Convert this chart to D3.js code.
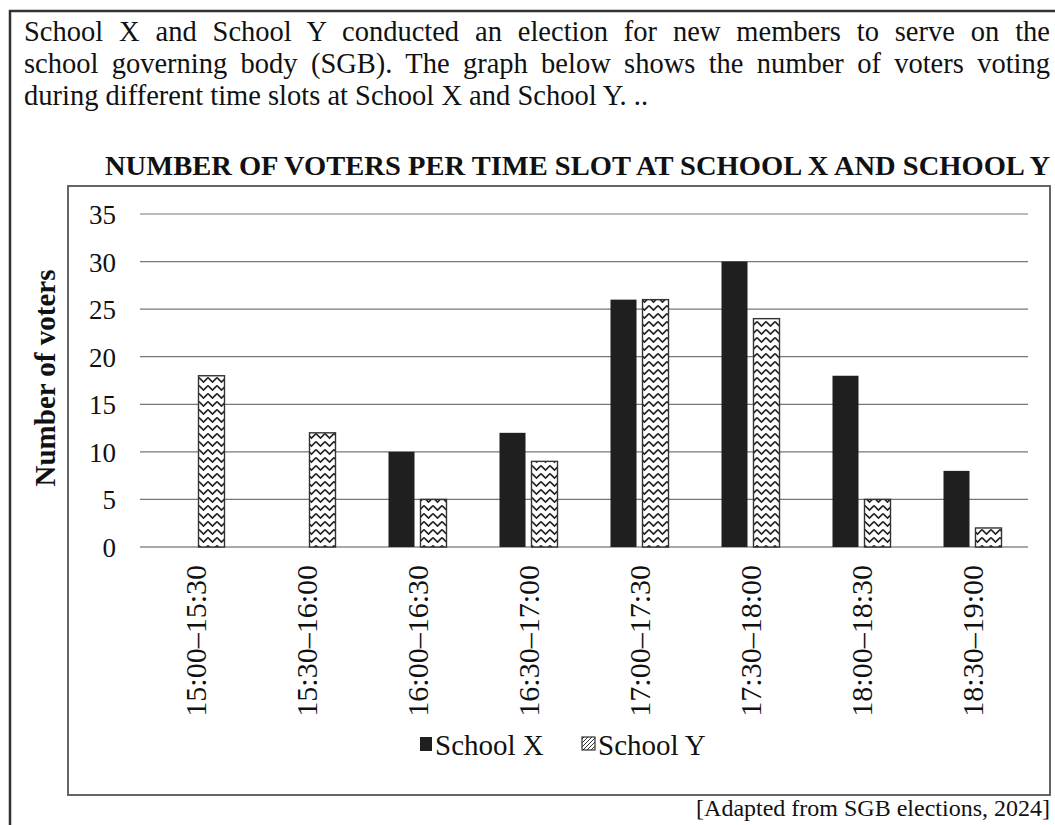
<!DOCTYPE html>
<html>
<head>
<meta charset="utf-8">
<script src="https://cdn.jsdelivr.net/npm/d3@7/dist/d3.min.js"></script>
<style>
  html, body { margin: 0; padding: 0; background: #fff; }
  svg { display: block; }
  text { font-family: "Liberation Serif", "Times New Roman", serif; fill: #111; }
</style>
</head>
<body>
<svg id="chart" width="1055" height="825"></svg>
<script>
// ---- data ----
const categories = ["15:00–15:30", "15:30–16:00", "16:00–16:30", "16:30–17:00",
                    "17:00–17:30", "17:30–18:00", "18:00–18:30", "18:30–19:00"];
const schoolX = [0, 0, 10, 12, 26, 30, 18, 8];
const schoolY = [18, 12, 5, 9, 26, 24, 5, 2];
const seriesNames = ["School X", "School Y"];
const yTicks = [0, 5, 10, 15, 20, 25, 30, 35];
const introLines = [
  "School X and School Y conducted an election for new members to serve on the",
  "school governing body (SGB). The graph below shows the number of voters voting",
  "during different time slots at School X and School Y. .."
];
const titleText = "NUMBER OF VOTERS PER TIME SLOT AT SCHOOL X AND SCHOOL Y";
const yLabel = "Number of voters";
const sourceText = "[Adapted from SGB elections, 2024]";

// ---- drawing ----
const svg = d3.select("#chart");

// pattern for School Y
const defs = svg.append("defs");
const pat = defs.append("pattern")
  .attr("id", "zigzag").attr("patternUnits", "userSpaceOnUse")
  .attr("width", 9).attr("height", 8).attr("x", 1);
pat.append("rect").attr("width", 9).attr("height", 8).attr("fill", "#fff");
pat.append("path").attr("d", "M0,1.5 L4.5,6 L9,1.5")
  .attr("fill", "none").attr("stroke", "#222").attr("stroke-width", 1.6);

const pat2 = defs.append("pattern")
  .attr("id", "legendPat").attr("patternUnits", "userSpaceOnUse")
  .attr("width", 4).attr("height", 4);
pat2.append("rect").attr("width", 4).attr("height", 4).attr("fill", "#fff");
pat2.append("path").attr("d", "M0,4 L4,0").attr("stroke", "#333").attr("stroke-width", 1);

// outer frame
svg.append("path")
  .attr("d", "M10,826 L10,11 L1060,11")
  .attr("fill", "none").attr("stroke", "#333").attr("stroke-width", 2.5);

// intro paragraph
const introG = svg.append("g");
const lineY = [41, 73, 105];
introLines.forEach((t, i) => {
  const tx = introG.append("text")
    .attr("x", 24).attr("y", lineY[i])
    .style("font-size", "28.5px")
    .text(t);
  if (i < 2) {
    const target = 1050 - 24;
    const len = tx.node().getComputedTextLength();
    const spaces = (t.match(/ /g) || []).length;
    tx.style("word-spacing", ((target - len) / spaces) + "px");
  }
});

// title
svg.append("text")
  .attr("x", 105).attr("y", 175)
  .attr("textLength", 945).attr("lengthAdjust", "spacingAndGlyphs")
  .style("font-size", "28px").style("font-weight", "bold")
  .text(titleText);

// inner chart frame
svg.append("rect")
  .attr("x", 68).attr("y", 186).attr("width", 982).attr("height", 609)
  .attr("fill", "none").attr("stroke", "#555").attr("stroke-width", 1.8);

// scales
const plotLeft = 140, plotRight = 1028, plotTop = 214, plotBottom = 547;
const x = d3.scaleBand().domain(categories).range([plotLeft, plotRight]).padding(0);
const y = d3.scaleLinear().domain([0, 35]).range([plotBottom, plotTop]);

// gridlines
svg.append("g").selectAll("line").data(yTicks).join("line")
  .attr("x1", plotLeft).attr("x2", plotRight)
  .attr("y1", d => y(d)).attr("y2", d => y(d))
  .attr("stroke", d => d === 0 ? "#555" : "#777").attr("stroke-width", 1.2);

// y axis tick labels
const yAxis = d3.axisLeft(y).tickValues(yTicks).tickSize(0).tickPadding(0);
const yg = svg.append("g").attr("transform", `translate(116,0)`).call(yAxis);
yg.select(".domain").remove();
yg.selectAll("text")
  .style("font-family", '"Liberation Serif", serif')
  .style("font-size", "27px").attr("fill", "#111").attr("dy", "0.35em");

// y axis label
svg.append("text")
  .attr("transform", `translate(55,378) rotate(-90)`)
  .attr("text-anchor", "middle")
  .style("font-size", "29px").style("font-weight", "bold")
  .text(yLabel);

// bars
const barW = 26, gap = 3;
const data = categories.map((c, i) => ({ c, xv: schoolX[i], yv: schoolY[i] }));
const bars = svg.append("g");
bars.selectAll("rect.x").data(data.filter(d => d.xv > 0)).join("rect")
  .attr("class", "x")
  .attr("x", d => x(d.c) + x.bandwidth() / 2 - gap - barW)
  .attr("width", barW)
  .attr("y", d => y(d.xv))
  .attr("height", d => y(0) - y(d.xv))
  .attr("fill", "#1f1f1f");
bars.selectAll("rect.y").data(data.filter(d => d.yv > 0)).join("rect")
  .attr("class", "y")
  .attr("x", d => x(d.c) + x.bandwidth() / 2 + gap)
  .attr("width", barW)
  .attr("y", d => y(d.yv))
  .attr("height", d => y(0) - y(d.yv))
  .attr("fill", "url(#zigzag)")
  .attr("stroke", "#333").attr("stroke-width", 1.4);

// x axis labels
const xAxis = d3.axisBottom(x).tickSize(0).tickPadding(0);
const xg = svg.append("g").attr("transform", `translate(0,${plotBottom})`).call(xAxis);
xg.select(".domain").remove();
xg.selectAll("text")
  .style("font-family", '"Liberation Serif", serif')
  .style("font-size", "30px").attr("fill", "#111")
  .attr("text-anchor", "end")
  .attr("transform", "rotate(-90)")
  .attr("x", -18).attr("y", 0).attr("dy", "0.35em");

// legend
const lg = svg.append("g").attr("transform", "translate(420,745)");
lg.append("rect").attr("x", 0).attr("y", -8).attr("width", 12).attr("height", 14).attr("fill", "#1f1f1f");
lg.append("text").attr("x", 15).attr("y", 10).style("font-size", "29px").text(seriesNames[0]);
lg.append("rect").attr("x", 162).attr("y", -8).attr("width", 13).attr("height", 13)
  .attr("fill", "url(#legendPat)").attr("stroke", "#333").attr("stroke-width", 1.2);
lg.append("text").attr("x", 178).attr("y", 10).style("font-size", "29px").text(seriesNames[1]);

// source
svg.append("text")
  .attr("x", 1050).attr("y", 816).attr("text-anchor", "end")
  .style("font-size", "24px")
  .text(sourceText);
</script>
</body>
</html>
